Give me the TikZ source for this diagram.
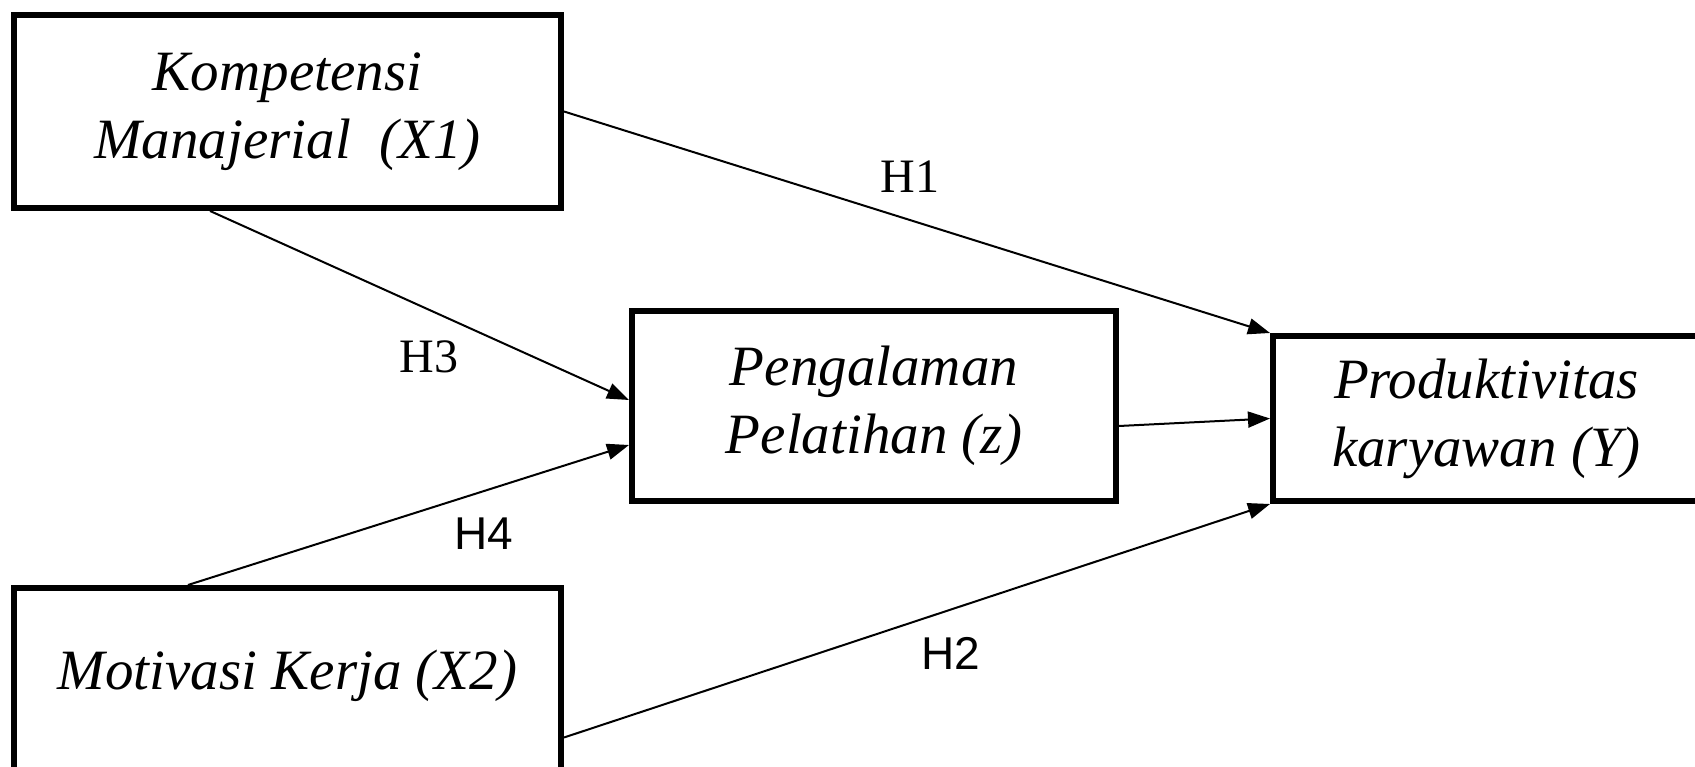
\documentclass[tikz,border=0pt]{standalone}
\usepackage{fontspec}
\setmainfont{Liberation Serif}
\newfontfamily\arialfont{Liberation Sans}
\usetikzlibrary{arrows.meta,calc}
\begin{document}
\begin{tikzpicture}[x=1pt,y=1pt,
  varbox/.style={draw,line width=6pt,inner sep=0pt,align=center,
    font=\fontsize{57}{68}\selectfont\itshape},
  conn/.style={line width=2pt,-{Triangle[length=22pt,width=16pt]}},
  serlab/.style={font=\fontsize{48}{56}\selectfont},
  sanslab/.style={font=\arialfont\fontsize{46}{54}\selectfont}]
\useasboundingbox (0,0) rectangle (1695,766);
\node[varbox,minimum width=547pt,minimum height=193pt] (x1) at (287.5,654.5) {Kompetensi\\Manajerial\ \ (X1)};
\node[varbox,minimum width=484pt,minimum height=190pt] (z) at (874,360) {Pengalaman\\Pelatihan (z)};
\node[varbox,minimum width=427pt,minimum height=165pt] (y) at (1486.5,347.5) {Produktivitas\\karyawan (Y)};
\node[varbox,minimum width=547pt,minimum height=187pt] (x2) at (287.5,84.5) {};
\node[font=\fontsize{57}{68}\selectfont\itshape] (x2t) at (287.5,90) {Motivasi Kerja (X2)};
\draw[conn] (x1.east) -- (y.north west);
\draw[conn] ($(x1.south west)!0.36!(x1.south east)$) -- ([yshift=6pt]z.west);
\draw[conn] ($(x2.north west)!0.32!(x2.north east)$) -- ([yshift=-39pt]z.west);
\draw[conn] ([yshift=-20pt]z.east) -- (y.west);
\draw[conn] ([yshift=-56pt]x2.east) -- (y.south west);
\node[serlab] (h1) at (910,589) {H1};
\node[serlab] (h3) at (429,409) {H3};
\node[sanslab] (h4) at (484,232) {H4};
\node[sanslab] (h2) at (951,113) {H2};
\end{tikzpicture}
\end{document}
